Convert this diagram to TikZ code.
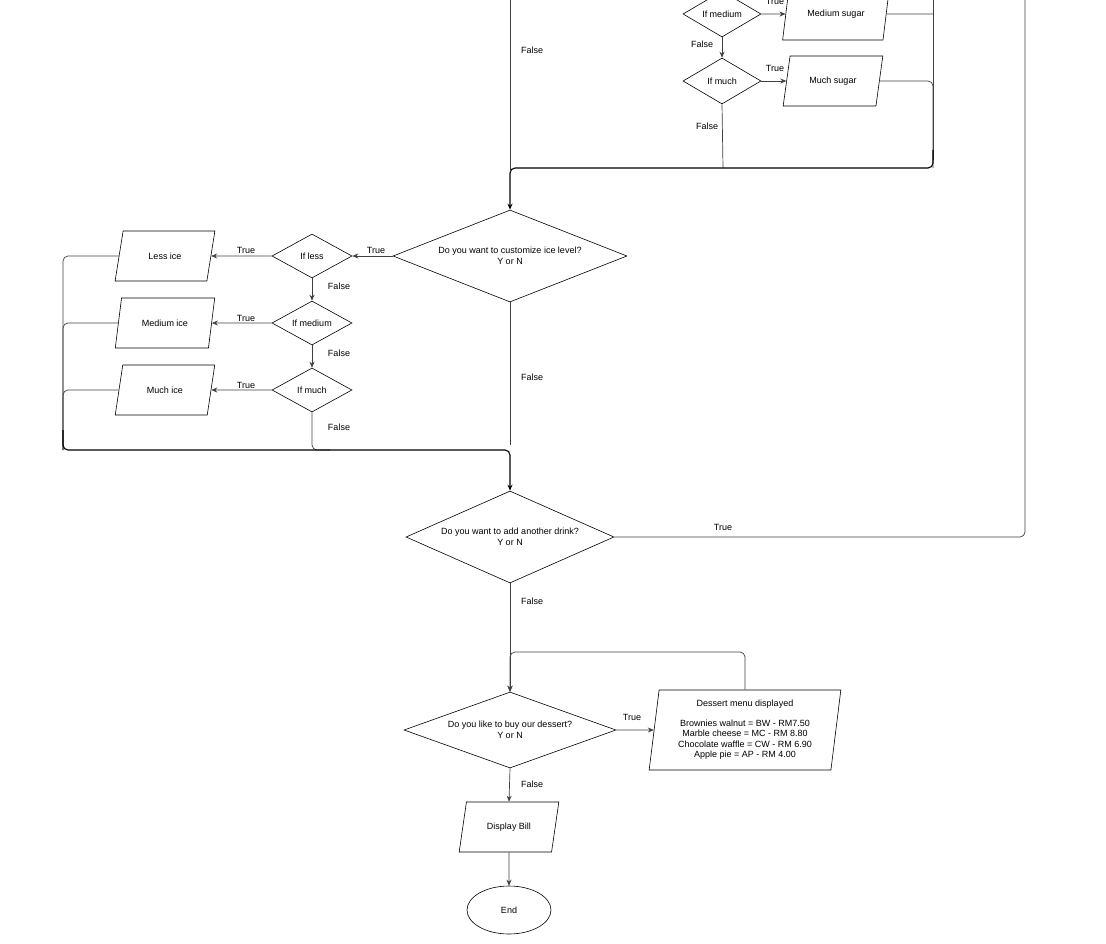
\documentclass[tikz,border=0pt]{standalone}
\usepackage{fontspec}
\setmainfont{Liberation Sans}
\usetikzlibrary{shapes.geometric,arrows.meta}
\begin{document}
\begin{tikzpicture}[x=1pt,y=-1pt,
  every node/.style={font=\fontsize{9}{10.5}\selectfont},
  dec/.style={diamond,draw,aspect=#1,inner sep=0pt,align=center,line width=0.6pt},
  io/.style={trapezium,trapezium left angle=74,trapezium right angle=106,draw,trapezium stretches=true,align=center,line width=0.6pt},
  ln/.style={draw=black!75,line width=0.7pt,rounded corners=5pt},
  bl/.style={draw=black,line width=1.1pt,rounded corners=5pt},
  arr/.style={-{Stealth[length=6pt,width=5pt]}},
  lab/.style={font=\fontsize{9}{10.5}\selectfont}]
\useasboundingbox (0,0) rectangle (1106,943);
% top sugar part
\node[dec=1.75,minimum width=78pt,minimum height=46pt] (imed) at (722,14) {If medium};
\node[dec=1.75,minimum width=78pt,minimum height=46pt] (imuch) at (722,81) {If much};
\node[io,minimum width=107pt,minimum height=52pt] (msug) at (836,14) {Medium sugar};
\node[io,minimum width=100pt,minimum height=50pt] (musug) at (833,81) {Much sugar};
\draw[ln,arr] (imed.east) -- (msug.west);
\draw[ln,arr] (imuch.east) -- (musug.west);
\draw[ln,arr] (imed.south) -- (imuch.north);
\node[lab] at (775,1) {True};
\node[lab] at (775,68) {True};
\node[lab] at (702,44) {False};
\node[lab] at (707,126) {False};
\node[lab] at (532,50) {False};
% ice
\node[dec=2.54,minimum width=234pt,minimum height=92pt] (ice) at (510,256) {Do you want to customize ice level?\\Y or N};
\coordinate (topin) at (510,0);
\coordinate (c933) at (933,0);
\draw[ln] (topin) -- (510,170);
\draw[ln] (c933) -- (933,160);
\draw[ln] (msug.east) -- (933,14);
\draw[ln] (musug.east) -- (933,81) -- (933,168);
\draw[ln] (imuch.south) -- (723,168);
\draw[bl,arr] (933,150) -- (933,168) -- (510,168) -- (ice.north);
\node[dec=1.82,minimum width=80pt,minimum height=44pt] (iless) at (312,256) {If less};
\node[dec=1.82,minimum width=80pt,minimum height=44pt] (imedi) at (312,323) {If medium};
\node[dec=1.82,minimum width=80pt,minimum height=44pt] (imuchi) at (312,390) {If much};
\node[io,minimum width=100pt,minimum height=50pt] (lice) at (165,256) {Less ice};
\node[io,minimum width=100pt,minimum height=50pt] (mice) at (165,323) {Medium ice};
\node[io,minimum width=100pt,minimum height=50pt] (muice) at (165,390) {Much ice};
\draw[ln,arr] (ice.west) -- (iless.east);
\node[lab] at (376,250) {True};
\draw[ln,arr] (iless.west) -- (lice.east);
\draw[ln,arr] (imedi.west) -- (mice.east);
\draw[ln,arr] (imuchi.west) -- (muice.east);
\node[lab] at (246,250) {True};
\node[lab] at (246,318) {True};
\node[lab] at (246,385) {True};
\draw[ln,arr] (iless.south) -- (imedi.north);
\draw[ln,arr] (imedi.south) -- (imuchi.north);
\node[lab] at (339,286) {False};
\node[lab] at (339,353) {False};
\node[lab] at (339,427) {False};
\draw[ln] (lice.west) -- (63,256) -- (63,450);
\draw[ln] (mice.west) -- (63,323) -- (63,450);
\draw[ln] (muice.west) -- (63,390) -- (63,450);
\draw[ln] (imuchi.south) -- (312,450) -- (330,450);
\node[dec=2.26,minimum width=208pt,minimum height=92pt] (drink) at (510,537) {Do you want to add another drink?\\Y or N};
\draw[bl,arr] (63,430) -- (63,450) -- (510,450) -- (drink.north);
\draw[ln] (ice.south) -- (510,445);
\node[lab] at (532,377) {False};
\coordinate (c1025) at (1025,0);
\draw[ln] (drink.east) -- (1025,537) -- (c1025);
\node[lab] at (723,527) {True};
% dessert
\node[dec=2.79,minimum width=212pt,minimum height=76pt] (des) at (510,730) {Do you like to buy our dessert?\\Y or N};
\draw[ln,arr] (drink.south) -- (des.north);
\node[lab] at (532,601) {False};
\node[io,trapezium left angle=83,trapezium right angle=97,minimum width=192pt,minimum height=80pt] (menu) at (745,730) {Dessert menu displayed\\[9pt]Brownies walnut = BW - RM7.50\\Marble cheese = MC - RM 8.80\\Chocolate waffle = CW - RM 6.90\\Apple pie = AP - RM 4.00};
\draw[ln,arr] (des.east) -- (menu.west);
\node[lab] at (632,717) {True};
\draw[ln,arr] (menu.north) -- (745,652) -- (510,652) -- (510,692);
\node[io,minimum width=100pt,minimum height=50pt] (bill) at (509,827) {Display Bill};
\draw[ln,arr] (des.south) -- (bill.north);
\node[lab] at (532,784) {False};
\node[ellipse,draw,line width=0.6pt,minimum width=84pt,minimum height=48pt] (end) at (509,910) {End};
\draw[ln,arr] (bill.south) -- (end.north);
\end{tikzpicture}
\end{document}
